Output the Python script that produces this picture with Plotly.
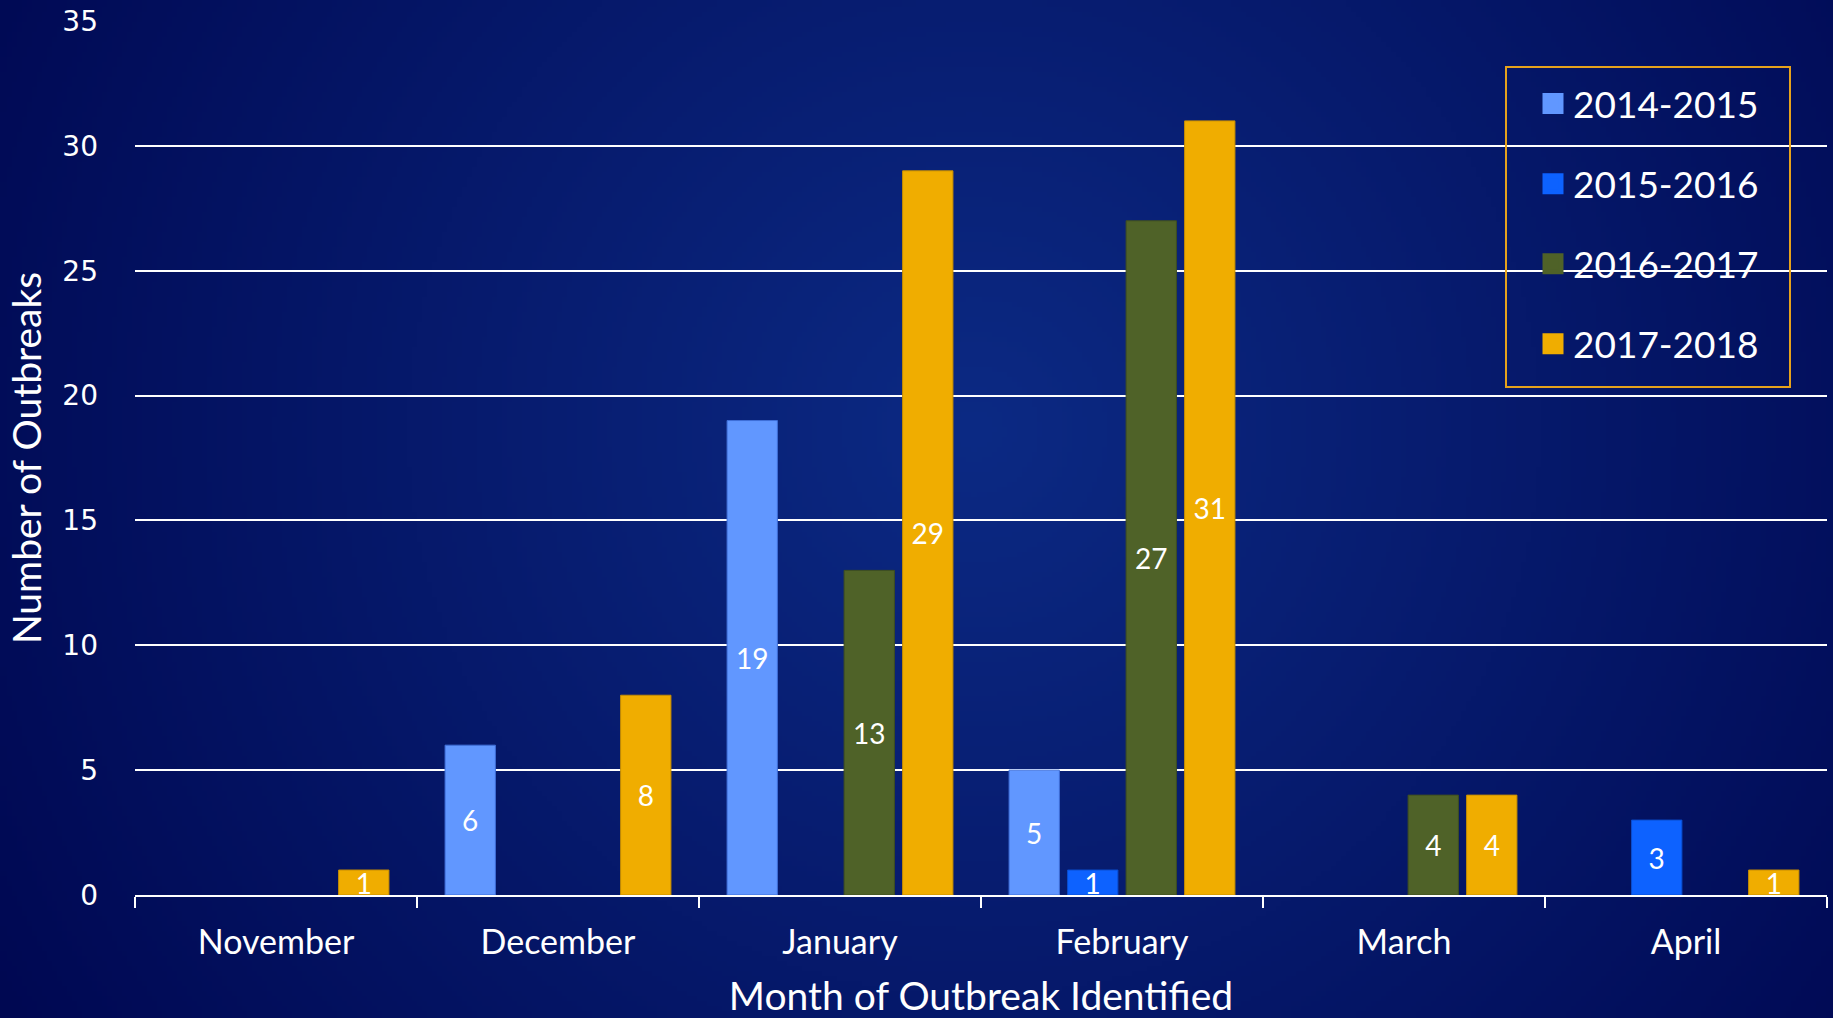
import base64, struct, zlib
import numpy as np
import plotly.graph_objects as go

# ---------------- data ----------------
months = ["November", "December", "January", "February", "March", "April"]
seasons = ["2014-2015", "2015-2016", "2016-2017", "2017-2018"]
s2014_2015 = [None, 6, 19, 5, None, None]
s2015_2016 = [None, None, None, 1, None, 3]
s2016_2017 = [None, None, 13, 27, 4, None]
s2017_2018 = [1, 8, 29, 31, 4, 1]
y_ticks = [0, 5, 10, 15, 20, 25, 30, 35]

series = [s2014_2015, s2015_2016, s2016_2017, s2017_2018]
colors = ["#6197FF", "#0D62FF", "#4F6228", "#F0AD00"]
edge = ["#3F6FD8", "#0A4ED0", "#3E4E20", "#C88E00"]

W, H = 1833, 1018
ML, MR, MT, MB = 135, 6, 21, 123
PW, PH = W - ML - MR, H - MT - MB


def px_x(p):
    return (p - ML) / PW


def px_y(p):
    return 1 - (p - MT) / PH


# ---------------- background gradient (style only) ----------------
def make_png(arr):
    h, w, _ = arr.shape
    raw = b"".join(b"\x00" + arr[i].tobytes() for i in range(h))

    def chunk(t, d):
        c = struct.pack(">I", len(d)) + t + d
        return c + struct.pack(">I", zlib.crc32(t + d) & 0xFFFFFFFF)

    return (b"\x89PNG\r\n\x1a\n" + chunk(b"IHDR", struct.pack(">IIBBBBB", w, h, 8, 2, 0, 0, 0))
            + chunk(b"IDAT", zlib.compress(raw, 9)) + chunk(b"IEND", b""))


gw, gh = 367, 204
yy, xx = np.mgrid[0:gh, 0:gw]
cx, cy = 0.53 * gw, 0.42 * gh
d = np.sqrt(((xx - cx) / (0.62 * gw)) ** 2 + ((yy - cy) / (0.62 * gw)) ** 2)
d = np.clip(d, 0, 1)
c0 = np.array([12, 42, 132], float)
c1 = np.array([0, 8, 82], float)
img = (c0[None, None, :] * (1 - d[..., None]) + c1[None, None, :] * d[..., None]).astype(np.uint8)
bg_src = "data:image/png;base64," + base64.b64encode(make_png(img)).decode()

FONT = "Lato, Open Sans, sans-serif"

# ---------------- figure ----------------
fig = go.Figure()
for name, vals, col, ec in zip(seasons, series, colors, edge):
    fig.add_trace(go.Bar(
        x=months, y=vals, name=name, showlegend=False,
        marker=dict(color=col, line=dict(color=ec, width=1)),
        texttemplate="%{y}", textposition="inside", insidetextanchor="middle",
        textangle=0, constraintext="none", cliponaxis=False,
        textfont=dict(family=FONT, size=28, color="white"),
        hoverinfo="x+y+name",
    ))
# legend entries
for name, col in zip(seasons, colors):
    fig.add_trace(go.Scatter(
        x=[None], y=[None], mode="markers", name=name, legendgroup=name,
        marker=dict(symbol="square", size=16, color=col, line=dict(color=col, width=5)),
    ))

fig.update_layout(
    width=W, height=H,
    margin=dict(l=ML, r=MR, t=MT, b=MB, autoexpand=False),
    paper_bgcolor="#000A55", plot_bgcolor="rgba(0,0,0,0)",
    barmode="group", bargap=0.17, bargroupgap=0.14,
    font=dict(family=FONT, color="white"),
    images=[dict(source=bg_src, xref="paper", yref="paper",
                 x=-ML / PW, y=1 + MT / PH, sizex=W / PW, sizey=H / PH,
                 xanchor="left", yanchor="top", sizing="stretch", layer="below")],
    shapes=[dict(type="rect", xref="paper", yref="paper",
                 x0=px_x(1506), x1=px_x(1790), y0=px_y(67), y1=px_y(387),
                 line=dict(color="#E6A21C", width=2), fillcolor="rgba(0,0,0,0)", layer="above")],
    legend=dict(
        x=px_x(1533), y=px_y(73),
        xanchor="left", yanchor="top",
        bgcolor="rgba(0,0,0,0)", borderwidth=0,
        font=dict(family=FONT, size=37, color="white"),
        tracegroupgap=29, itemsizing="trace",
    ),
    xaxis=dict(
        type="category", categoryorder="array", categoryarray=months,
        showline=True, linecolor="white", linewidth=2,
        ticks="outside", tickson="boundaries", ticklen=11, tickwidth=2, tickcolor="white",
        showgrid=False, zeroline=False,
        tickfont=dict(family=FONT, size=34, color="white"),
        ticklabelstandoff=16,
        title=dict(text="Month of Outbreak Identified", standoff=30,
                   font=dict(family=FONT, size=39, color="white")),
    ),
    yaxis=dict(
        range=[0, 35], tickvals=y_ticks, showgrid=True, gridcolor="white", gridwidth=1.5,
        zeroline=False, showline=False, ticks="",
        tickfont=dict(family="DejaVu Sans, sans-serif", size=28, color="white"),
        ticklabelstandoff=36,
        title=dict(text="Number of Outbreaks", standoff=8,
                   font=dict(family=FONT, size=39, color="white")),
    ),
)

fig.write_html("out.html", config={"displayModeBar": False},
               post_script="document.body.style.margin='0';")
